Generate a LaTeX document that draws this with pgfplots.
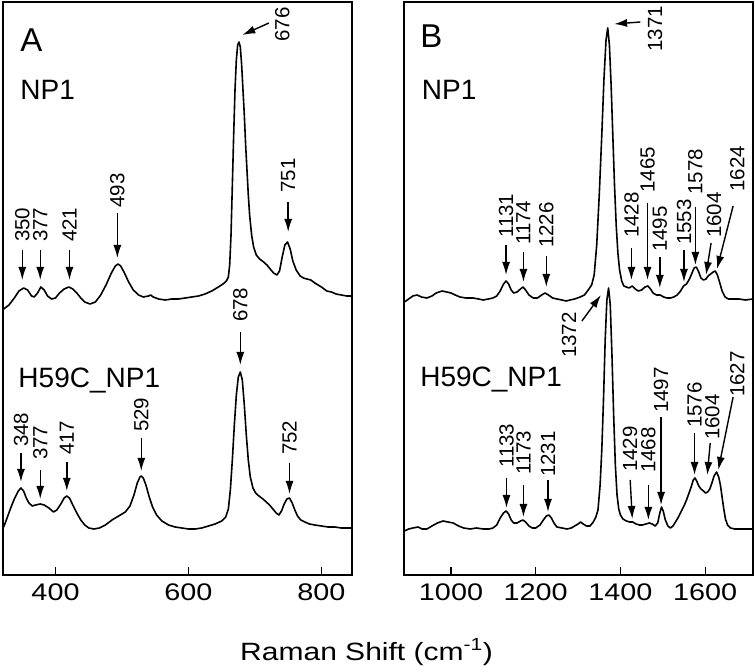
\documentclass[border=0pt]{standalone}
\usepackage{pgfplots}
\pgfplotsset{compat=1.18}
\usepackage{fontspec}
\setmainfont{Liberation Sans}
\usetikzlibrary{arrows.meta}
\pgfplotsset{
  myax/.style={scale only axis, width=349pt, height=573pt, ymin=0, ymax=573,
    ytick=\empty, xtick pos=bottom, tick align=inside, major tick length=8pt,
    axis line style={line width=1.5pt}, every tick/.style={line width=1.2pt, black},
    tick label style={font=\fontsize{24}{28}\selectfont, xscale=1.2, yshift=-5pt},
    /pgf/number format/assume math mode=true, /pgf/number format/1000 sep={},
    clip mode=individual},
  spec/.style={black, line width=1.6pt, line join=round, no marks},
}
\tikzset{
  pk/.style={-{Latex[length=13pt,width=8pt]}, line width=1.4pt},
  lb/.style={rotate=90, anchor=west, inner sep=0pt, font=\fontsize{20.5}{24}\selectfont},
  nm/.style={anchor=base west, inner sep=0pt, font=\fontsize{28}{32}\selectfont},
  pn/.style={anchor=base west, inner sep=0pt, font=\fontsize{33}{38}\selectfont},
}
\begin{document}
\begin{tikzpicture}[x=1pt,y=1pt]
\useasboundingbox (0,0) rectangle (755,672);
% ---------------- Panel A ----------------
\begin{axis}[myax, at={(3pt,97pt)}, anchor=south west, xmin=321, xmax=846, xtick={400,600,800}]
\addplot[spec] table {
322 266
330 270
338 277
345 284
352 287
358 285
364 279
368 278
373 282
378 288
383 285
388 279
394 276
400 277
406 282
413 286
420 288
426 286
432 282
438 277
444 273
452 271
460 273
468 280
476 290
484 302
490 309
494 311
498 309
503 303
510 293
517 285
525 280
532 278
540 279
543 280
547 278
555 276
565 275
575 276
585 276
595 277
605 278
615 279
625 281
635 284
645 288
652 291
657 294
660 298
662 310
664 340
666 390
668 440
670 485
672 515
674 530
676 533
678 528
680 510
682 485
684 460
686 430
688 405
690 380
692 360
695 340
698 328
702 320
707 316
713 313
718 310
723 306
728 302
733 300
737 304
741 318
745 330
749 333
753 326
757 314
762 305
768 299
773 297
778 296
784 295
790 292
795 290
800 288
808 284
815 283
822 281
830 280
838 279
846 279
};
\addplot[spec] table {
322 48
326 55
332 66
338 76
344 84
348 87
352 84
356 77
360 72
365 69
370 70
377 71
383 70
390 67
397 63
402 65
408 71
413 77
417 79
421 77
426 70
432 62
438 55
444 50
450 47
458 46
466 47
475 50
485 55
495 59
505 63
512 69
518 80
523 92
527 98
529 99
532 97
536 90
541 78
546 68
552 60
560 54
570 50
580 48
590 47
600 46
610 46
620 47
630 49
640 51
650 54
656 58
660 66
663 85
666 115
669 150
672 180
675 198
678 203
681 195
684 170
687 140
690 115
693 98
697 87
701 82
706 79
712 76
717 73
722 70
727 66
732 62
736 60
740 64
744 71
748 76
752 77
756 72
760 65
764 59
769 55
775 53
782 51
790 50
800 49
810 48
820 48
830 47
846 47
};
\node[pn] at (axis cs:347,523) {A};
\node[nm] at (axis cs:347,475) {NP1};
\node[nm] at (axis cs:344,187) {H59C\_NP1};
% NP1 annotations
\draw[pk] (axis cs:350,325) -- (axis cs:350,295);
\node[lb] at (axis cs:350,333) {350};
\draw[pk] (axis cs:377,325) -- (axis cs:377,295);
\node[lb] at (axis cs:377,333) {377};
\draw[pk] (axis cs:421,325) -- (axis cs:421,295);
\node[lb] at (axis cs:421,333) {421};
\draw[pk] (axis cs:493,362) -- (axis cs:493,317);
\node[lb] at (axis cs:493,367) {493};
\draw[pk] (axis cs:721,552) -- (axis cs:681,540);
\node[lb] at (axis cs:741,533) {676};
\draw[pk] (axis cs:750,373) -- (axis cs:750,343);
\node[lb] at (axis cs:750,382) {751};
% H59C annotations
\draw[pk] (axis cs:348,122) -- (axis cs:348,93);
\node[lb] at (axis cs:348,128) {348};
\draw[pk] (axis cs:377,105) -- (axis cs:377,76);
\node[lb] at (axis cs:377,115) {377};
\draw[pk] (axis cs:417,113) -- (axis cs:417,84);
\node[lb] at (axis cs:417,120) {417};
\draw[pk] (axis cs:529,137) -- (axis cs:529,104);
\node[lb] at (axis cs:529,143) {529};
\draw[pk] (axis cs:678,243) -- (axis cs:678,210);
\node[lb] at (axis cs:678,253) {678};
\draw[pk] (axis cs:752,112) -- (axis cs:752,81);
\node[lb] at (axis cs:752,120) {752};
\end{axis}
% ---------------- Panel B ----------------
\begin{axis}[myax, at={(404pt,97pt)}, anchor=south west, xmin=889, xmax=1713, xtick={1000,1200,1400,1600}]
\addplot[spec] table {
890 273
900 276
910 279
920 280
930 278
943 277
955 279
965 282
979 284
990 283
1000 282
1010 280
1021 278
1035 277
1052 277
1065 276
1076 275
1088 276
1099 277
1108 279
1116 284
1124 291
1130 294
1136 291
1142 285
1148 282
1156 283
1164 286
1170 288
1176 285
1184 280
1194 277
1204 277
1214 280
1222 282
1230 280
1240 277
1250 276
1262 275
1272 274
1281 275
1292 276
1305 278
1315 280
1324 285
1332 290
1338 300
1344 330
1350 380
1356 440
1361 495
1366 535
1370 547
1374 530
1378 490
1382 440
1386 390
1390 350
1394 322
1398 305
1403 294
1408 289
1414 288
1420 287
1428 289
1435 286
1442 284
1450 285
1458 288
1465 289
1471 286
1477 282
1485 280
1494 280
1502 278
1510 277
1518 277
1526 278
1534 280
1542 284
1549 289
1556 291
1563 296
1569 302
1574 307
1579 308
1584 304
1590 297
1596 295
1602 296
1607 299
1613 301
1619 303
1624 304
1629 300
1634 293
1640 284
1647 278
1655 276
1666 276
1680 276
1695 275
1713 276
};
\addplot[spec] table {
890 44
900 46
910 47
922 48
932 46
943 46
955 49
968 52
981 54
993 53
1005 52
1018 49
1030 47
1045 46
1060 47
1076 46
1090 46
1099 47
1108 50
1116 57
1124 62
1130 64
1136 61
1142 55
1148 52
1156 52
1164 54
1170 55
1176 53
1184 49
1192 47
1200 47
1210 50
1218 55
1225 59
1231 60
1237 57
1243 52
1250 48
1262 47
1274 46
1284 47
1292 49
1300 51
1306 53
1312 51
1320 49
1328 49
1336 53
1342 58
1347 65
1352 90
1356 125
1360 175
1364 235
1368 275
1372 287
1376 270
1380 220
1384 160
1388 110
1392 80
1396 66
1400 60
1406 56
1414 54
1422 53
1429 53
1437 51
1445 50
1452 50
1460 51
1468 52
1475 51
1482 49
1488 52
1493 62
1497 68
1501 64
1506 55
1512 49
1518 47
1524 49
1530 53
1537 58
1544 64
1550 69
1556 75
1562 82
1567 88
1572 95
1576 97
1580 94
1585 89
1590 86
1596 84
1601 82
1606 83
1611 86
1616 92
1621 99
1627 103
1632 98
1636 90
1640 78
1644 66
1648 56
1653 50
1660 47
1670 46
1685 46
1700 46
1713 46
};
\node[pn] at (axis cs:927,527) {B};
\node[nm] at (axis cs:931,475) {NP1};
\node[nm] at (axis cs:927,188) {H59C\_NP1};
% NP1 annotations
\draw[pk] (axis cs:1447,553) -- (axis cs:1385,551);
\node[lb] at (axis cs:1482,523) {1371};
\draw[pk] (axis cs:1130,330) -- (axis cs:1130,300);
\node[lb] at (axis cs:1130,337) {1131};
\draw[pk] (axis cs:1171,323) -- (axis cs:1171,293);
\node[lb] at (axis cs:1171,330) {1174};
\draw[pk] (axis cs:1225,319) -- (axis cs:1225,288);
\node[lb] at (axis cs:1225,327) {1226};
\draw[pk] (axis cs:1426,327) -- (axis cs:1426,295);
\node[lb] at (axis cs:1426,337) {1428};
\draw[pk] (axis cs:1464,372) -- (axis cs:1464,295);
\node[lb] at (axis cs:1464,382) {1465};
\draw[pk] (axis cs:1493,318) -- (axis cs:1493,287);
\node[lb] at (axis cs:1493,323) {1495};
\draw[pk] (axis cs:1550,325) -- (axis cs:1550,293);
\node[lb] at (axis cs:1550,330) {1553};
\draw[pk] (axis cs:1577,368) -- (axis cs:1577,310);
\node[lb] at (axis cs:1577,380) {1578};
\draw[pk] (axis cs:1614,332) -- (axis cs:1602,300);
\node[lb] at (axis cs:1621,337) {1604};
\draw[pk] (axis cs:1666,369) -- (axis cs:1628,306);
\node[lb] at (axis cs:1676,383) {1624};
% H59C annotations
\draw[pk] (axis cs:1309,254) -- (axis cs:1354,280);
\node[lb] at (axis cs:1279,217) {1372};
\draw[pk] (axis cs:1131,97) -- (axis cs:1131,67);
\node[lb] at (axis cs:1131,107) {1133};
\draw[pk] (axis cs:1171,90) -- (axis cs:1171,58);
\node[lb] at (axis cs:1171,100) {1173};
\draw[pk] (axis cs:1229,95) -- (axis cs:1229,63);
\node[lb] at (axis cs:1229,98) {1231};
\draw[pk] (axis cs:1423,95) -- (axis cs:1428,56);
\node[lb] at (axis cs:1423,103) {1429};
\draw[pk] (axis cs:1466,90) -- (axis cs:1466,55);
\node[lb] at (axis cs:1466,102) {1468};
\draw[pk] (axis cs:1496,158) -- (axis cs:1496,70);
\node[lb] at (axis cs:1496,162) {1497};
\draw[pk] (axis cs:1575,142) -- (axis cs:1575,100);
\node[lb] at (axis cs:1575,147) {1576};
\draw[pk] (axis cs:1612,132) -- (axis cs:1605,100);
\node[lb] at (axis cs:1617,135) {1604};
\draw[pk] (axis cs:1666,178) -- (axis cs:1631,105);
\node[lb] at (axis cs:1676,178) {1627};
\end{axis}
\node[anchor=base west, inner sep=0pt, xscale=1.2, font=\fontsize{25}{30}\selectfont] at (240,12) {Raman Shift (cm\textsuperscript{-1})};
\end{tikzpicture}
\end{document}
